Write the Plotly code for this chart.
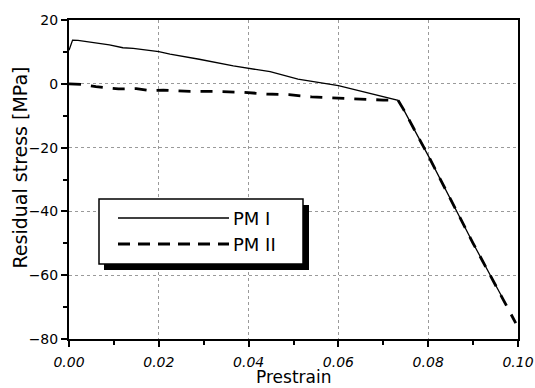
import plotly.graph_objects as go

# ---- data ----
series_names = ["PM I", "PM II"]

pm1_x = [0, 0.0008, 0.002, 0.007, 0.009, 0.012, 0.0143, 0.02, 0.0225, 0.029, 0.0366,
         0.0448, 0.051, 0.06, 0.072, 0.0733, 0.0745, 0.08, 0.09, 0.0965]
pm1_y = [10.5, 13.7, 13.6, 12.7, 12.2, 11.3, 11.1, 10.1, 9.3, 7.7, 5.6,
         3.8, 1.5, -0.6, -4.7, -5.2, -8, -22.5, -50, -67]

pm2_x = [0, 0.003, 0.006, 0.011, 0.015, 0.018, 0.021, 0.027, 0.033, 0.039, 0.044,
         0.049, 0.054, 0.06, 0.065, 0.07, 0.0733, 0.0745, 0.08, 0.09, 0.0995]
pm2_y = [0, -0.2, -0.9, -1.6, -1.5, -2.1, -2.0, -2.4, -2.4, -2.7, -3.2,
         -3.4, -4.1, -4.5, -4.9, -5.1, -5.2, -8, -22.5, -50, -75]

x_ticks = [0.00, 0.02, 0.04, 0.06, 0.08, 0.10]
y_ticks = [-80, -60, -40, -20, 0, 20]

x_title = "Prestrain"
y_title = "Residual stress [MPa]"

FONT = "DejaVu Sans, Arial, sans-serif"

fig = go.Figure()
fig.add_trace(go.Scatter(x=pm1_x, y=pm1_y, mode="lines", name=series_names[0],
                         line=dict(color="black", width=1.3), showlegend=False))
fig.add_trace(go.Scatter(x=pm2_x, y=pm2_y, mode="lines", name=series_names[1],
                         line=dict(color="black", width=2.8, dash="12px,10px"),
                         showlegend=False))

axis_common = dict(
    showline=True, linecolor="black", linewidth=2, mirror=True,
    ticks="outside", ticklen=6, tickwidth=1.5, tickcolor="black",
    showgrid=True, gridcolor="#9a9a9a", gridwidth=1, griddash="dot",
    zeroline=False, automargin=False,
)

fig.update_xaxes(range=[0, 0.1], tickvals=x_ticks, tickformat=".2f",
                 tickfont=dict(family=FONT, size=14, color="black", style="italic"),
                 ticklabelstandoff=3,
                 minor=dict(dtick=0.01, ticks="outside", ticklen=4, tickcolor="black",
                            showgrid=False),
                 **axis_common)
fig.update_yaxes(range=[-80, 20], tickvals=y_ticks,
                 tickfont=dict(family=FONT, size=14, color="black"),
                 minor=dict(dtick=10, ticks="outside", ticklen=4, tickcolor="black",
                            showgrid=False),
                 **axis_common)

# ---- legend drawn as a boxed inset with drop shadow ----
px = lambda p: (p - 69) / 449.0
py = lambda p: (339 - p) / 319.0
shapes = [
    dict(type="rect", xref="paper", yref="paper", x0=px(104), x1=px(309), y0=py(270), y1=py(205),
         fillcolor="black", line=dict(width=0), layer="above"),
    dict(type="rect", xref="paper", yref="paper", x0=px(99), x1=px(303), y0=py(264), y1=py(199),
         fillcolor="white", line=dict(color="black", width=1.5), layer="above"),
    dict(type="line", xref="paper", yref="paper", x0=px(118), x1=px(229), y0=py(218), y1=py(218),
         line=dict(color="black", width=1.3), layer="above"),
    dict(type="line", xref="paper", yref="paper", x0=px(118), x1=px(229), y0=py(244), y1=py(244),
         line=dict(color="black", width=2.8, dash="12px,8px"), layer="above"),
]
annotations = [
    dict(text=series_names[0], xref="paper", yref="paper", x=px(231), y=py(218),
         xanchor="left", yanchor="middle", showarrow=False,
         font=dict(family=FONT, size=18, color="black")),
    dict(text=series_names[1], xref="paper", yref="paper", x=px(231), y=py(244),
         xanchor="left", yanchor="middle", showarrow=False,
         font=dict(family=FONT, size=18, color="black")),
    dict(text=x_title, xref="paper", yref="paper", x=0.5, y=py(377),
         xanchor="center", yanchor="middle", showarrow=False,
         font=dict(family=FONT, size=17, color="black")),
    dict(text=y_title, xref="paper", yref="paper", x=px(19), y=py(167.5),
         xanchor="center", yanchor="middle", showarrow=False, textangle=-90,
         font=dict(family=FONT, size=19, color="black")),
]

fig.update_layout(
    width=535, height=388,
    margin=dict(l=69, r=17, t=20, b=49, autoexpand=False),
    paper_bgcolor="white", plot_bgcolor="white",
    shapes=shapes, annotations=annotations,
    showlegend=False,
    font=dict(family=FONT, color="black"),
)

fig.write_html("out.html")
